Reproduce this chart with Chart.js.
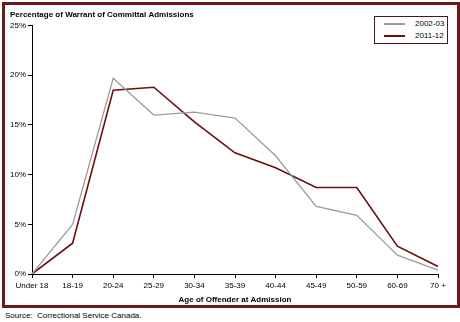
<!DOCTYPE html>
<html>
<head>
<meta charset="utf-8">
<script src="https://cdn.jsdelivr.net/npm/chart.js@4/dist/chart.umd.min.js"></script>
<style>
  body { margin: 0; background: #fff; width: 460px; height: 322px; position: relative; overflow: hidden;
         font-family: "Liberation Sans Narrow", "Arial Narrow", "Liberation Sans", Arial, sans-serif; }
  #frame { position: absolute; left: 2px; top: 2px; width: 452px; height: 300px; border: 3px solid #6a1c1c; }
  #legend { position: absolute; left: 374px; top: 16px; width: 72px; height: 26px; border: 1px solid #4a1616; background: #fff; }
  .item { position: absolute; left: 0; width: 72px; height: 12px; font-size: 8px; color: #000; white-space: nowrap; }
  .item span.ln { position: absolute; left: 9px; width: 21px; top: 5px; height: 2px; }
  .item span.tx { position: absolute; left: 40px; top: 0px; line-height: 12px; }
  #source { position: absolute; left: 5px; top: 311px; font-size: 8px; color: #000; white-space: nowrap; }
</style>
</head>
<body>
<div id="frame"><canvas id="myChart"></canvas></div>
<div id="legend"></div>
<div id="source">Source:&nbsp; Correctional Service Canada.</div>
<script>
const ages = ['Under 18', '18-19', '20-24', '25-29', '30-34', '35-39', '40-44', '45-49', '50-59', '60-69', '70 +'];
const y2002 = [0, 5.0, 19.7, 16.0, 16.3, 15.7, 11.9, 6.8, 5.9, 1.9, 0.4];
const y2011 = [0, 3.1, 18.5, 18.8, 15.3, 12.2, 10.7, 8.7, 8.7, 2.8, 0.75];
const seriesNames = ['2002-03', '2011-12'];
const seriesColors = ['#9c9c9c', '#6b0f0f'];

const fontFamily = '"Liberation Sans Narrow", "Arial Narrow", "Liberation Sans", Arial, sans-serif';
Chart.defaults.font.family = fontFamily;
Chart.defaults.color = '#000';

let ctx = document.getElementById('myChart');
let myChart = new Chart(ctx, {
    type: 'line',
    data: {
        labels: ages,
        datasets: [
            { label: seriesNames[0], data: y2002, borderColor: seriesColors[0], borderWidth: 1.3, pointRadius: 0, tension: 0 },
            { label: seriesNames[1], data: y2011, borderColor: seriesColors[1], borderWidth: 1.6, pointRadius: 0, tension: 0 }
        ]
    },
    options: {
        responsive: true,
        maintainAspectRatio: false,
        animation: false,
        layout: { padding: { left: 5, right: 19, top: 0, bottom: 0 } },
        plugins: {
            legend: { display: false },
            tooltip: { enabled: false },
            title: {
                display: true,
                text: 'Percentage of Warrant of Committal Admissions',
                align: 'start',
                font: { size: 8, weight: 'bold' },
                padding: { top: 5, bottom: 6 }
            }
        },
        scales: {
            x: {
                offset: false,
                grid: { drawOnChartArea: false, drawTicks: true, tickLength: 4, color: '#000' },
                border: { display: true, color: '#000', width: 1 },
                ticks: { font: { size: 8 }, maxRotation: 0, autoSkip: false, padding: 3 },
                title: { display: true, text: 'Age of Offender at Admission', font: { size: 8, weight: 'bold' }, padding: { top: 2, bottom: 0 } },
                afterFit: function(scale) { scale.height = 31; }
            },
            y: {
                min: 0,
                max: 25,
                grid: { drawOnChartArea: false, drawTicks: true, tickLength: 4, color: '#000' },
                border: { display: true, color: '#000', width: 1 },
                ticks: { stepSize: 5, font: { size: 8 }, padding: 2, callback: v => v + '%' },
                afterFit: function(scale) { scale.width = 22; }
            }
        }
    }
});

// legend box built from the datasets
const legend = document.getElementById('legend');
myChart.data.datasets.forEach(function(ds, i) {
    const item = document.createElement('div');
    item.className = 'item';
    item.style.top = (1 + i * 12) + 'px';
    item.innerHTML = '<span class="ln" style="background:' + ds.borderColor + '"></span><span class="tx">' + ds.label + '</span>';
    legend.appendChild(item);
});
</script>
</body>
</html>
